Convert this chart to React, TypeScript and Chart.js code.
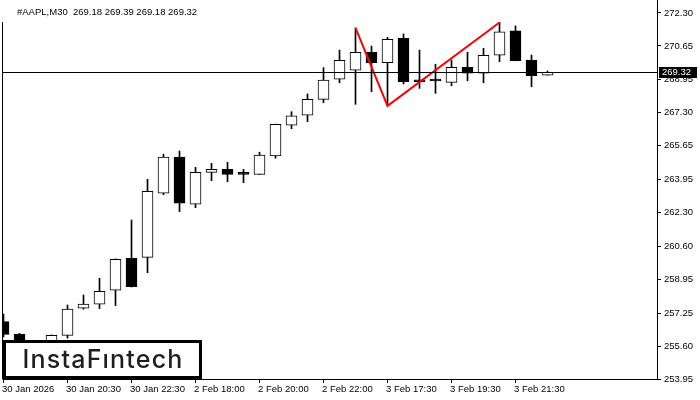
import React, { useEffect, useRef } from "react";
import { Chart, registerables } from "chart.js";

Chart.register(...registerables);

const symbolTitle = "#AAPL,M30  269.18 269.39 269.18 269.32";
const logoText = "InstaF\u0131ntech";

const timeLabels = [
  "30 Jan 2026",
  "30 Jan 20:30",
  "30 Jan 22:30",
  "2 Feb 18:00",
  "2 Feb 20:00",
  "2 Feb 22:00",
  "3 Feb 17:30",
  "3 Feb 19:30",
  "3 Feb 21:30",
];
const labelCandleIndex = [0, 4, 8, 12, 16, 20, 24, 28, 32];

const priceTicks = [
  253.95, 255.6, 257.25, 258.95, 260.6, 262.3, 263.95, 265.65, 267.3, 268.95, 270.65, 272.3,
];

const opens = [
  256.83, 256.19, 255.66, 255.6, 256.14, 257.5, 257.7, 258.4, 260.0, 260.05,
  263.26, 265.07, 262.71, 264.31, 264.46, 264.21, 264.21, 265.13, 266.67, 267.18,
  267.97, 268.98, 269.43, 270.33, 269.81, 271.03, 268.92, 268.89, 268.82, 269.58,
  269.28, 270.18, 271.4, 269.94, 269.18,
];
const highs = [
  257.21, 256.24, 255.85, 256.16, 257.66, 258.16, 259.0, 259.97, 261.92, 263.96,
  265.22, 265.38, 264.56, 264.76, 264.81, 264.46, 265.32, 266.73, 267.35, 268.24,
  269.56, 270.44, 271.55, 270.64, 271.08, 271.25, 270.44, 269.73, 269.94, 270.33,
  270.53, 271.83, 271.65, 270.19, 269.39,
];
const lows = [
  256.06, 255.41, 255.38, 255.5, 256.0, 257.45, 257.48, 257.63, 258.56, 259.28,
  263.19, 262.34, 262.54, 263.89, 263.84, 263.79, 264.2, 265.02, 266.5, 266.85,
  267.8, 268.8, 267.72, 268.35, 267.64, 268.74, 268.52, 268.27, 268.65, 268.9,
  268.8, 269.86, 269.9, 268.6, 269.18,
];
const closes = [
  256.19, 255.66, 255.55, 256.14, 257.45, 257.7, 258.35, 259.95, 258.58, 263.36,
  265.07, 262.76, 264.31, 264.46, 264.21, 264.21, 265.17, 266.72, 267.14, 267.97,
  268.93, 269.93, 270.33, 269.81, 270.98, 268.85, 268.85, 268.89, 269.58, 269.28,
  270.18, 271.36, 269.91, 269.16, 269.32,
];

const patternIndex = [22, 24, 31];
const patternPrice = [271.55, 267.64, 271.82];
const currentPrice = 269.32;

const FONT = "'Liberation Sans', Arial, sans-serif";

const overlayPlugin = {
  id: "mtOverlay",
  afterDatasetsDraw(chart: any) {
    const { ctx, chartArea, scales } = chart;
    const py = Math.floor(scales.y.getPixelForValue(currentPrice)) + 0.5;
    ctx.save();
    ctx.strokeStyle = "#000";
    ctx.lineWidth = 1;
    ctx.beginPath();
    ctx.moveTo(chartArea.left, py);
    ctx.lineTo(chartArea.right, py);
    ctx.stroke();
    ctx.restore();
  },
  afterDraw(chart: any) {
    const { ctx, chartArea, scales } = chart;
    ctx.save();
    // left frame line
    ctx.strokeStyle = "#000";
    ctx.lineWidth = 1;
    ctx.beginPath();
    ctx.moveTo(chartArea.left - 0.5, 22);
    ctx.lineTo(chartArea.left - 0.5, chartArea.bottom + 0.5);
    ctx.stroke();

    // current price label
    const py = Math.floor(scales.y.getPixelForValue(currentPrice));
    ctx.fillStyle = "#000";
    ctx.fillRect(chartArea.right + 2, py - 5, 38, 11);
    ctx.fillStyle = "#fff";
    ctx.font = `9.5px ${FONT}`;
    ctx.textBaseline = "middle";
    ctx.textAlign = "left";
    ctx.fillText(currentPrice.toFixed(2), chartArea.right + 5, py + 0.5);

    // title
    ctx.fillStyle = "#000";
    ctx.font = `9.5px ${FONT}`;
    ctx.textBaseline = "alphabetic";
    ctx.fillText(symbolTitle, 17, 15);

    // logo
    ctx.fillStyle = "#fff";
    ctx.fillRect(3, 340, 199, 39);
    ctx.strokeStyle = "#000";
    ctx.lineWidth = 3;
    ctx.strokeRect(4.5, 341.5, 196, 36);
    ctx.fillStyle = "#1e1e1e";
    ctx.font = `500 25px Inter, 'Noto Sans', sans-serif`;
    try {
      (ctx as any).letterSpacing = "1.2px";
    } catch (e) {}
    ctx.textAlign = "center";
    ctx.textBaseline = "alphabetic";
    ctx.fillText(logoText, 103, 368);
    ctx.restore();
  },
};

export default function App() {
  const canvasRef = useRef<HTMLCanvasElement | null>(null);

  useEffect(() => {
    const canvas = canvasRef.current;
    if (!canvas) return;

    const idx = opens.map((_, i) => i);
    const bodyData = idx.map((i) => ({ x: i, y: [opens[i], closes[i]] }));
    const wickData = idx.map((i) => ({ x: i, y: [lows[i], highs[i]] }));
    const bodyColors = idx.map((i) => (closes[i] > opens[i] ? "#ffffff" : "#000000"));
    const patternData = patternIndex.map((k, i) => ({ x: k, y: patternPrice[i] }));

    const chart = new Chart(canvas, {
      type: "bar",
      data: {
        datasets: [
          {
            type: "line",
            data: patternData as any,
            borderColor: "#ff0000",
            borderWidth: 2,
            pointRadius: 0,
            tension: 0,
            fill: false,
            order: 0,
          } as any,
          {
            type: "bar",
            data: bodyData as any,
            backgroundColor: bodyColors,
            borderColor: "#000000",
            borderWidth: 1,
            borderSkipped: false,
            barThickness: 11,
            minBarLength: 2,
            grouped: false,
            order: 1,
          } as any,
          {
            type: "bar",
            data: wickData as any,
            backgroundColor: "#000000",
            borderWidth: 0,
            barThickness: 1,
            grouped: false,
            order: 2,
          } as any,
        ],
      },
      options: {
        responsive: false,
        animation: false,
        events: [],
        layout: { padding: { left: 3, top: 0, right: 0, bottom: 0 } },
        plugins: {
          legend: { display: false },
          tooltip: { enabled: false },
          title: { display: false },
        },
        scales: {
          x: {
            type: "linear",
            min: -0.03125,
            max: 40.84375,
            bounds: "data",
            offset: false,
            grid: {
              display: true,
              drawOnChartArea: false,
              drawTicks: true,
              tickLength: 4,
              color: "#000",
              offset: false,
            },
            border: { display: true, color: "#000", width: 1 },
            ticks: {
              autoSkip: false,
              maxRotation: 0,
              minRotation: 0,
              align: "start",
              padding: 1,
              labelOffset: -1.5,
              color: "#000",
              font: { family: FONT, size: 9.5 },
              callback: (value: any) => {
                const i = labelCandleIndex.indexOf(Number(value));
                return i >= 0 ? timeLabels[i] : "";
              },
            },
            afterBuildTicks: (s: any) => {
              s.ticks = labelCandleIndex.map((v) => ({ value: v }));
            },
            afterFit: (s: any) => {
              s.height = 21;
              s.paddingLeft = 0;
              s.paddingRight = 0;
              s.paddingTop = 0;
              s.paddingBottom = 0;
            },
          } as any,
          y: {
            type: "linear",
            position: "right",
            min: 253.95,
            max: 272.95,
            bounds: "data",
            grid: {
              display: true,
              drawOnChartArea: false,
              drawTicks: true,
              tickLength: 4,
              color: "#000",
            },
            border: { display: true, color: "#000", width: 1 },
            ticks: {
              autoSkip: false,
              padding: 3,
              color: "#000",
              font: { family: FONT, size: 9.5 },
              callback: (value: any) => Number(value).toFixed(2),
            },
            afterBuildTicks: (s: any) => {
              s.ticks = priceTicks.map((v) => ({ value: v }));
            },
            afterFit: (s: any) => {
              s.width = 43;
              s.paddingLeft = 0;
              s.paddingRight = 0;
              s.paddingTop = 0;
              s.paddingBottom = 0;
            },
          } as any,
        },
      },
      plugins: [overlayPlugin],
    });

    return () => chart.destroy();
  }, []);

  return (
    <div
      style={{
        position: "fixed",
        left: 0,
        top: 0,
        width: 700,
        height: 400,
        background: "#ffffff",
      }}
    >
      <canvas ref={canvasRef} width={700} height={400} style={{ display: "block" }} />
    </div>
  );
}
